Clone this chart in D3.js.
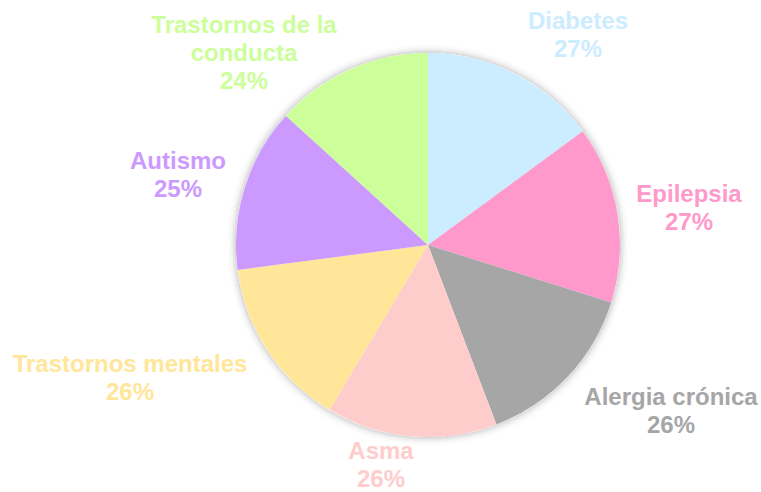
<html>
    <head>
        <meta charset = "utf-8">
        <script src = "https://d3js.org/d3.v7.min.js"></script>
        <style>
            body { margin: 0; background: #fff; }
            text { font-family: "Liberation Sans", Arial, sans-serif; font-weight: bold; font-size: 24px; }
        </style>
    </head>
    <body>
        <svg id = 'chart' width = 761 height = 492></svg>
        <script>
            // data
            const categories = ['Diabetes', 'Epilepsia', 'Alergia crónica', 'Asma', 'Trastornos mentales', 'Autismo', 'Trastornos de la conducta'];
            const values = [27, 27, 26, 26, 26, 25, 24];
            const colors = ['#CCECFF', '#FF99CC', '#A6A6A6', '#FFCCCC', '#FFE699', '#CC99FF', '#CCFF99'];
            // label text is wrapped the way the chart shows it
            const labelLines = [['Diabetes'], ['Epilepsia'], ['Alergia crónica'], ['Asma'], ['Trastornos mentales'], ['Autismo'], ['Trastornos de la', 'conducta']];

            // label placement (center x, first baseline)
            const labelPos = [[578, 29], [689, 202], [671, 405], [381, 459], [130, 372], [178, 169], [244, 33]];

            const svg = d3.select('svg#chart');
            const cx = 428, cy = 245, radius = 192;

            const defs = svg.append('defs');
            const f = defs.append('filter').attr('id', 'shadow')
                          .attr('x', '-20%').attr('y', '-20%').attr('width', '140%').attr('height', '140%');
            f.append('feDropShadow').attr('dx', 0).attr('dy', 0).attr('stdDeviation', 4)
             .attr('flood-color', '#000').attr('flood-opacity', 0.35);

            const pie = d3.pie().sort(null).value(d => d.value);
            const arc = d3.arc().innerRadius(0).outerRadius(radius);

            const rows = categories.map((c, i) => ({name: c, value: values[i], color: colors[i], lines: labelLines[i], pos: labelPos[i]}));

            const g = svg.append('g').attr('transform', `translate(${cx}, ${cy})`);
            g.append('circle').attr('r', radius).attr('fill', '#fff').attr('filter', 'url(#shadow)');

            g.selectAll('path.slice').data(pie(rows))
             .join('path')
             .attr('class', 'slice')
             .attr('d', arc)
             .attr('fill', d => d.data.color);

            const lineH = 28;
            const labels = svg.selectAll('text.label').data(rows)
                              .join('text')
                              .attr('class', 'label')
                              .attr('text-anchor', 'middle')
                              .attr('fill', d => d.color);
            labels.each(function(d) {
                const t = d3.select(this);
                const all = d.lines.concat([d.value + '%']);
                all.forEach((s, j) => {
                    t.append('tspan').attr('x', d.pos[0]).attr('y', d.pos[1] + j * lineH).text(s);
                });
            });
        </script>
    </body>
</html>
